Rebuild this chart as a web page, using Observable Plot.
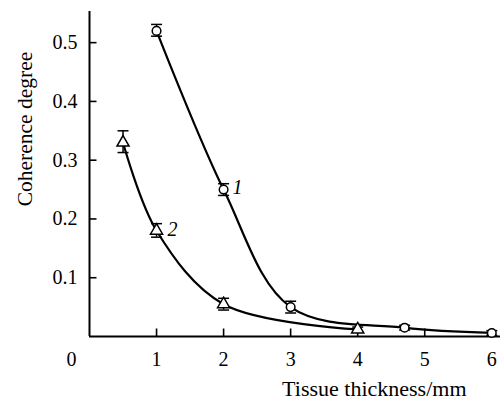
<!DOCTYPE html>
<html>
<head>
<meta charset="utf-8">
<script src="https://cdn.jsdelivr.net/npm/d3@7"></script>
<script src="https://cdn.jsdelivr.net/npm/@observablehq/plot@0.6"></script>
<style>
  html, body { margin: 0; padding: 0; background: white; }
</style>
</head>
<body>
<div id="chart"></div>
<script>
// Series 1 (circles)
const thick1 = [1, 2, 3, 4.7, 6];
const coh1 = [0.52, 0.25, 0.05, 0.015, 0.006];
const lo1 = [0.511, 0.24, 0.04, 0.011, 0.002];
const hi1 = [0.531, 0.26, 0.06, 0.019, 0.010];
// Series 2 (triangles)
const thick2 = [0.5, 1, 2, 4];
const coh2 = [0.33, 0.18, 0.055, 0.012];
const lo2 = [0.313, 0.169, 0.045, 0.008];
const hi2 = [0.35, 0.192, 0.065, 0.016];
// Axis ticks & labels
const xTicks = [1, 2, 3, 4, 5, 6];
const yTicks = [0.1, 0.2, 0.3, 0.4, 0.5];
const xLabel = "Tissue thickness/mm";
const yLabel = "Coherence degree";
const seriesLabels = ["1", "2"];

const s1 = thick1.map((x, i) => ({x, y: coh1[i], lo: lo1[i], hi: hi1[i]}));
const s2 = thick2.map((x, i) => ({x, y: coh2[i], lo: lo2[i], hi: hi2[i]}));
const caps1 = s1.flatMap(d => [{x: d.x, y: d.lo}, {x: d.x, y: d.hi}]);
const caps2 = s2.flatMap(d => [{x: d.x, y: d.lo}, {x: d.x, y: d.hi}]);
const label1 = [{x: thick1[1], y: coh1[1], t: seriesLabels[0]}];
const label2 = [{x: thick2[1], y: coh2[1], t: seriesLabels[1]}];

const capSym = {draw(c) { c.moveTo(-5.5, 0); c.lineTo(5.5, 0); }};
const yTickSym = {draw(c) { c.moveTo(0, 0); c.lineTo(7, 0); }};
const xTickSym = {draw(c) { c.moveTo(0, 0); c.lineTo(0, -8); }};

const font = "Liberation Serif";

const chart = Plot.plot({
  width: 500,
  height: 401,
  marginLeft: 89,
  marginRight: 0,
  marginTop: 11,
  marginBottom: 65,
  style: {fontFamily: font, fontSize: "20px", background: "white", color: "black"},
  x: {domain: [0, 6.13], axis: null},
  y: {domain: [0, 0.553], axis: null},
  marks: [
    Plot.text(xTicks, {x: d => d, y: 0, text: d => String(d), dy: 29, lineAnchor: "bottom", fontSize: 20, fontFamily: font}),
    Plot.text(yTicks, {x: 0, y: d => d, text: d => d.toFixed(1), dx: -12, textAnchor: "end", lineAnchor: "middle", fontSize: 20, fontFamily: font}),
    Plot.dot(yTicks, {x: 0, y: d => d, symbol: yTickSym, stroke: "black", strokeWidth: 1.6, r: 3}),
    Plot.dot(xTicks, {x: d => d, y: 0, symbol: xTickSym, stroke: "black", strokeWidth: 1.6, r: 3}),
    Plot.ruleX([0], {stroke: "black", strokeWidth: 2}),
    Plot.ruleY([0], {stroke: "black", strokeWidth: 2}),
    Plot.text(["0"], {x: 0, y: 0, text: d => d, dx: -18, dy: 29, lineAnchor: "bottom", fontSize: 20, fontFamily: font}),
    Plot.text([xLabel], {frameAnchor: "bottom-right", text: d => d, textAnchor: "end", lineAnchor: "bottom", dx: -34, dy: 59, fontSize: 22, fontFamily: font}),
    Plot.text([yLabel], {frameAnchor: "left", text: d => d, textAnchor: "middle", rotate: -90, lineAnchor: "bottom", dx: -58, dy: -45, fontSize: 21.5, fontFamily: font}),
    Plot.line(s1, {x: "x", y: "y", curve: "catmull-rom", stroke: "black", strokeWidth: 2.2}),
    Plot.line(s2, {x: "x", y: "y", curve: "catmull-rom", stroke: "black", strokeWidth: 2.2}),
    Plot.ruleX(s1, {x: "x", y1: "lo", y2: "hi", stroke: "black", strokeWidth: 1.5}),
    Plot.ruleX(s2, {x: "x", y1: "lo", y2: "hi", stroke: "black", strokeWidth: 1.5}),
    Plot.dot(caps1, {x: "x", y: "y", symbol: capSym, stroke: "black", strokeWidth: 1.5, r: 3}),
    Plot.dot(caps2, {x: "x", y: "y", symbol: capSym, stroke: "black", strokeWidth: 1.5, r: 3}),
    Plot.dot(s1, {x: "x", y: "y", symbol: "circle", r: 4.3, fill: "white", stroke: "black", strokeWidth: 1.5}),
    Plot.dot(s2, {x: "x", y: "y", symbol: "triangle", r: 4.5, fill: "white", stroke: "black", strokeWidth: 1.5}),
    Plot.text(label1, {x: "x", y: "y", text: "t", dx: 9, dy: -2, textAnchor: "start", fontStyle: "italic", fontSize: 20, fontFamily: font}),
    Plot.text(label2, {x: "x", y: "y", text: "t", dx: 11, dy: -1, textAnchor: "start", fontStyle: "italic", fontSize: 20, fontFamily: font})
  ]
});
document.getElementById("chart").appendChild(chart);
</script>
</body>
</html>
